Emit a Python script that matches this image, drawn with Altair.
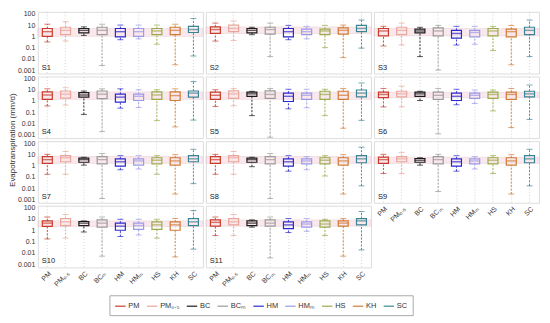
import altair as alt
import pandas as pd

methods = ["PM", "PM₀.₅", "BC", "BCₘ", "HM", "HMₘ", "HS", "KH", "SC"]
colors = ["#c83c2c", "#e9a59a", "#1a1a1a", "#9a9a9a", "#2a2ad0", "#9a9ae8", "#9aac4a", "#d07a34", "#3a8494"]
panels = ["S1", "S2", "S3", "S4", "S5", "S6", "S7", "S8", "S9", "S10", "S11"]

# per panel (rows) and method (columns, order as in `methods`)
whisker_low = [
    [0.32, 0.38, 1.2, 0.0026, 0.5, 0.6, 0.2, 0.003, 0.018],
    [0.38, 0.43, 1.4, 0.016, 0.5, 0.6, 0.1, 0.013, 0.09],
    [0.14, 0.17, 0.016, 0.001, 0.17, 0.2, 0.056, 0.003, 0.016],
    [0.36, 0.43, 0.064, 0.0019, 0.23, 0.26, 0.018, 0.005, 0.02],
    [0.33, 0.38, 0.05, 0.0006, 0.2, 0.25, 0.05, 0.0038, 0.019],
    [0.3, 0.3, 1.1, 0.0012, 0.46, 0.6, 0.13, 0.0043, 0.023],
    [0.17, 0.17, 1.1, 0.0012, 0.43, 0.5, 0.17, 0.003, 0.025],
    [0.17, 0.17, 0.8, 0.0012, 0.32, 0.43, 0.12, 0.003, 0.016],
    [0.2, 0.2, 1.1, 0.005, 0.32, 0.5, 0.2, 0.003, 0.016],
    [0.17, 0.2, 0.7, 0.005, 0.28, 0.38, 0.2, 0.0043, 0.021],
    [0.34, 0.34, 1.9, 0.0035, 0.63, 0.8, 0.34, 0.005, 0.018],
]
quart1 = [
    [1.0, 1.4, 2.0, 1.4, 0.9, 1.0, 1.4, 1.4, 2.2],
    [1.8, 2.6, 2.0, 1.6, 0.9, 1.4, 1.4, 1.6, 2.6],
    [1.1, 1.4, 2.0, 1.1, 0.7, 0.9, 1.1, 0.9, 1.4],
    [1.4, 1.8, 2.2, 1.6, 0.8, 1.1, 1.4, 1.1, 2.2],
    [1.4, 1.7, 2.6, 1.7, 0.9, 1.4, 1.4, 1.4, 2.3],
    [2.0, 2.3, 2.6, 1.4, 1.1, 1.7, 1.7, 1.4, 2.3],
    [1.6, 2.2, 2.0, 1.4, 0.9, 1.1, 1.4, 1.1, 2.2],
    [1.6, 2.2, 2.0, 1.4, 0.9, 1.4, 1.4, 1.1, 1.8],
    [1.6, 2.2, 2.0, 1.4, 0.9, 1.4, 1.4, 1.1, 1.8],
    [2.2, 2.6, 2.6, 1.9, 1.0, 1.2, 1.2, 1.0, 2.6],
    [2.3, 3.0, 2.6, 2.3, 1.4, 1.9, 1.9, 2.3, 3.0],
]
median = [
    [2.6, 3.4, 3.4, 3.4, 2.6, 2.6, 3.0, 3.4, 4.0],
    [4.0, 5.0, 3.4, 4.0, 2.6, 2.6, 3.0, 3.4, 5.0],
    [3.0, 3.4, 3.0, 3.0, 1.8, 2.2, 3.0, 2.6, 3.4],
    [3.4, 4.0, 3.4, 4.0, 2.2, 2.6, 3.4, 3.0, 5.0],
    [3.2, 4.3, 4.3, 3.8, 2.6, 3.2, 3.8, 3.2, 5.0],
    [3.8, 4.3, 4.3, 3.2, 2.6, 3.2, 3.8, 3.8, 4.3],
    [3.4, 5.0, 3.4, 3.4, 2.2, 2.6, 3.0, 2.6, 4.0],
    [3.4, 5.0, 3.4, 3.4, 2.2, 2.6, 3.0, 2.6, 4.0],
    [3.4, 4.0, 3.0, 3.4, 2.2, 2.6, 3.0, 2.6, 4.0],
    [4.3, 5.6, 4.3, 4.3, 2.3, 2.6, 3.0, 3.0, 5.6],
    [5.0, 5.6, 4.3, 4.3, 3.0, 3.6, 3.6, 4.3, 6.8],
]
quart3 = [
    [5.0, 6.4, 5.0, 6.4, 5.0, 5.0, 5.0, 6.4, 7.7],
    [6.8, 10, 5.0, 6.4, 5.0, 4.3, 4.3, 5.6, 9.4],
    [5.0, 6.4, 4.3, 5.6, 3.4, 3.4, 5.0, 4.3, 6.4],
    [6.4, 7.7, 5.6, 7.7, 4.0, 4.0, 6.4, 6.4, 7.7],
    [6.0, 8.0, 6.0, 8.0, 5.0, 5.0, 7.3, 7.3, 9.4],
    [6.0, 7.3, 6.0, 6.0, 5.0, 5.0, 6.0, 6.0, 7.3],
    [6.4, 7.7, 4.6, 6.4, 4.0, 4.0, 5.0, 5.0, 7.7],
    [6.4, 7.7, 4.6, 6.4, 4.0, 4.0, 5.0, 5.0, 7.7],
    [5.6, 6.4, 4.3, 6.4, 4.0, 4.0, 5.0, 5.0, 7.7],
    [6.8, 11, 6.0, 8.3, 4.3, 4.3, 5.6, 5.6, 11],
    [8.3, 11, 6.8, 8.3, 5.6, 5.6, 6.8, 6.8, 11],
]
whisker_high = [
    [12, 20, 7, 12, 10, 10, 10, 12, 38],
    [15, 23, 6.4, 15, 9.4, 7.7, 9.4, 10, 28],
    [7.7, 15, 6.4, 9.4, 7.7, 7.7, 7.7, 9.4, 28],
    [12, 15, 7.7, 12, 12, 10, 10, 12, 53],
    [10, 13, 7.2, 13, 11, 11, 11, 13, 40],
    [13, 21, 7.3, 13, 11, 9.4, 9.4, 13, 26],
    [10, 18, 5.6, 12, 7.7, 7.7, 7.7, 9.4, 28],
    [10, 18, 5.6, 12, 7.7, 6.4, 7.7, 9.4, 43],
    [10, 15, 5.0, 10, 7.7, 6.4, 7.7, 9.4, 28],
    [15, 25, 6.8, 15, 9.4, 9.4, 9.4, 11, 56],
    [15, 25, 8.3, 15, 11, 11, 9.4, 11, 46],
]
y_ticks = [0.001, 0.01, 0.1, 1, 10, 100]

W, H = 166, 62
FONT = "Liberation Sans"

legend = alt.Legend(
    orient="none", legendX=72, legendY=285, direction="horizontal", title=None,
    symbolType="stroke", symbolSize=110, symbolStrokeWidth=1.2,
    labelFontSize=7.5, labelFont=FONT, labelColor="#333333", labelOffset=2,
    columnPadding=4, padding=5, strokeColor="#aaaaaa", fillColor="white",
    gridAlign="none",
)
color_enc = alt.Color("method:N", scale=alt.Scale(domain=methods, range=colors), legend=legend)


def panel(i):
    name = panels[i]
    df = pd.DataFrame({
        "method": methods,
        "lo": whisker_low[i], "q1": quart1[i], "med": median[i],
        "q3": quart3[i], "hi": whisker_high[i],
    })
    col = i % 3
    bottom = i >= 8
    left = col == 0

    xaxis = alt.Axis(
        title=None, labels=bottom, labelAngle=315, labelFontSize=7, labelFont=FONT,
        labelColor="#333333", labelPadding=2, ticks=False, domain=False,
        grid=True, gridColor="#c4c4c4", gridDash=[1, 2], gridWidth=0.7, bandPosition=0.5,
    )
    x_enc = alt.X("method:N", sort=methods,
                  scale=alt.Scale(domain=methods, paddingInner=0, paddingOuter=0.02),
                  axis=xaxis)
    if left:
        yaxis = alt.Axis(
            values=y_ticks, format="~g", ticks=False, domain=False, grid=False,
            labelFontSize=7, labelFont=FONT, labelColor="#333333", labelPadding=3,
            title="Evapotranspiration (mm/d)" if i == 3 else None,
            titleFontSize=8, titleFont=FONT, titleFontWeight="normal", titleColor="#333333",
            titleX=-21, titleY=H + 1.5, titleAngle=270, titleAlign="center",
        )
    else:
        yaxis = None
    yscale = alt.Scale(type="log", domain=[0.0005, 150], nice=False)

    def Y(f):
        return alt.Y(f + ":Q", scale=yscale, axis=yaxis)

    base = alt.Chart(df)
    band = alt.Chart(df[df["method"] == "PM"]).mark_rect(
        color="#f8d6de", opacity=0.55, stroke="#d9b3ba", strokeWidth=0.6
    ).encode(x=alt.value(0), x2=alt.value(W), y=Y("q1"), y2="q3:Q")
    box = base.mark_bar(filled=False, size=10, strokeWidth=1.2).encode(
        x=x_enc, y=Y("q1"), y2="q3:Q", color=color_enc)
    wlo = base.mark_rule(strokeDash=[2, 1.5], strokeWidth=0.9).encode(
        x=x_enc, y=Y("lo"), y2="q1:Q", color=color_enc)
    whi = base.mark_rule(strokeDash=[2, 1.5], strokeWidth=0.9).encode(
        x=x_enc, y=Y("q3"), y2="hi:Q", color=color_enc)
    cap_lo = base.mark_tick(size=6, thickness=1).encode(x=x_enc, y=Y("lo"), color=color_enc)
    cap_hi = base.mark_tick(size=6, thickness=1).encode(x=x_enc, y=Y("hi"), color=color_enc)
    med = base.mark_tick(size=10, thickness=1.4).encode(x=x_enc, y=Y("med"), color=color_enc)
    lab = alt.Chart(pd.DataFrame({"t": [name]})).mark_text(
        align="left", baseline="bottom", fontSize=7.5, font=FONT, color="#222222"
    ).encode(x=alt.value(4), y=alt.value(H - 2), text="t:N")
    return alt.layer(band, box, wlo, whi, cap_lo, cap_hi, med, lab).properties(width=W, height=H)


charts = [panel(i) for i in range(len(panels))]
chart = alt.concat(*charts, columns=3, spacing=3, bounds="flush").resolve_scale(
    color="shared"
).properties(
    padding={"left": 0, "top": 0, "right": 2, "bottom": 0}
).configure_view(stroke="#8c8c8c", strokeWidth=0.8).configure(font=FONT)

chart.save("out.html", embed_options={"renderer": "svg", "actions": False})
